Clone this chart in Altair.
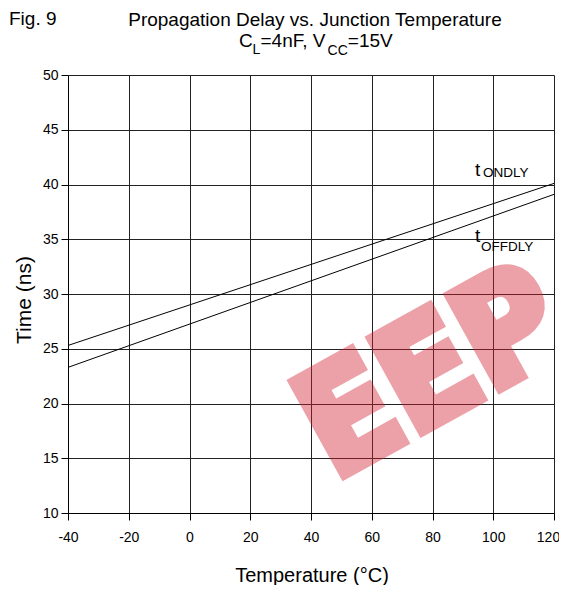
import altair as alt
import pandas as pd

# ---- data ----
temps = [-40, 120]
t_on = [25.3, 40.1]
t_off = [23.3, 39.1]
series_names = ["tONDLY", "tOFFDLY"]

x_ticks = [-40, -20, 0, 20, 40, 60, 80, 100, 120]
y_ticks = [10, 15, 20, 25, 30, 35, 40, 45, 50]

# curve labels (data coordinates)
lab_main = ["t", "t"]
lab_main_x = [94.0, 94.0]
lab_main_y = [40.8, 34.75]
lab_sub = ["ONDLY", "OFFDLY"]
lab_sub_x = [96.6, 96.0]
lab_sub_y = [40.7, 33.9]

# watermark
wm_text = ["EEP"]
wm_x = [47.6]
wm_y = [13.0]

FONT = "Liberation Sans"

rows = []
for name, vals in zip(series_names, [t_on, t_off]):
    for t, v in zip(temps, vals):
        rows.append({"series": name, "temp": t, "time": v})
df = pd.DataFrame(rows)

xs = alt.Scale(domain=[-40, 120], nice=False, zero=False)
ys = alt.Scale(domain=[10, 50], nice=False, zero=False)

X_AX = alt.Axis(
    values=x_ticks, title=None, labelFont=FONT, labelFontSize=14,
    labelColor="black", labelPadding=10, tickSize=7, tickColor="black",
    domainColor="black", gridColor="#222", gridOpacity=1, labelFlush=False,
    labelExpr="'' + datum.value",
    labelOffset={"condition": {"test": "datum.value == 120", "value": -6}, "value": 0})
Y_AX = alt.Axis(
    values=y_ticks, title=None, labelFont=FONT, labelFontSize=14,
    labelColor="black", labelPadding=3, tickSize=7, tickColor="black",
    domainColor="black", gridColor="#222", gridOpacity=1, labelFlush=False)

lines = alt.Chart(df).mark_line(color="black", strokeWidth=1).encode(
    x=alt.X("temp:Q", scale=xs, axis=X_AX),
    y=alt.Y("time:Q", scale=ys, axis=Y_AX),
    detail="series:N",
)

lab_df = pd.DataFrame({"t": lab_main, "temp": lab_main_x, "time": lab_main_y})
sub_df = pd.DataFrame({"t": lab_sub, "temp": lab_sub_x, "time": lab_sub_y})

labels_main = alt.Chart(lab_df).mark_text(
    font=FONT, fontSize=19, align="left", baseline="alphabetic", color="black"
).encode(x=alt.X("temp:Q", scale=xs, axis=X_AX), y=alt.Y("time:Q", scale=ys, axis=Y_AX), text="t:N")

labels_sub = alt.Chart(sub_df).mark_text(
    font=FONT, fontSize=13.5, align="left", baseline="alphabetic", color="black"
).encode(x=alt.X("temp:Q", scale=xs, axis=X_AX), y=alt.Y("time:Q", scale=ys, axis=Y_AX), text="t:N")


def txt(s, px, py, size, align="left", angle=0):
    return alt.Chart(pd.DataFrame({"t": [s]})).mark_text(
        font=FONT, fontSize=size, align=align, baseline="alphabetic",
        color="black", angle=angle
    ).encode(text="t:N", x=alt.value(px), y=alt.value(py))


titles = [
    txt("Fig. 9", -59, -50, 19),
    txt("Propagation Delay vs. Junction Temperature", 247, -49, 19, "center"),
    txt("C", 171, -28, 19),
    txt("L", 184.5, -21, 14),
    txt("=4nF, V", 192.5, -28, 19),
    txt("CC", 259.6, -20, 14),
    txt("=15V", 279.8, -28, 19),
    # axis titles
    txt("Temperature (°C)", 244, 507, 20, "center"),
    txt("Time (ns)", -37, 225, 21, "center", 270),
]

wm = alt.Chart(pd.DataFrame({"t": wm_text, "temp": wm_x, "time": wm_y})).mark_text(
    font="DejaVu Sans Condensed, DejaVu Sans", fontWeight="bold", fontSize=145,
    align="left", baseline="alphabetic", angle=331, color="#d42030",
    stroke="#d42030", strokeWidth=10, strokeJoin="miter", opacity=0.42
).encode(x=alt.X("temp:Q", scale=xs, axis=X_AX), y=alt.Y("time:Q", scale=ys, axis=Y_AX), text="t:N")

chart = alt.layer(lines, labels_main, labels_sub, *titles, wm).properties(
    width=486, height=438,
    autosize=alt.AutoSizeParams(type="none"),
    padding={"left": 60, "top": 67, "right": 5, "bottom": 72},
    background="white",
).configure_view(strokeWidth=0)

chart.save("out.html", embed_options={"renderer": "svg", "actions": False})
